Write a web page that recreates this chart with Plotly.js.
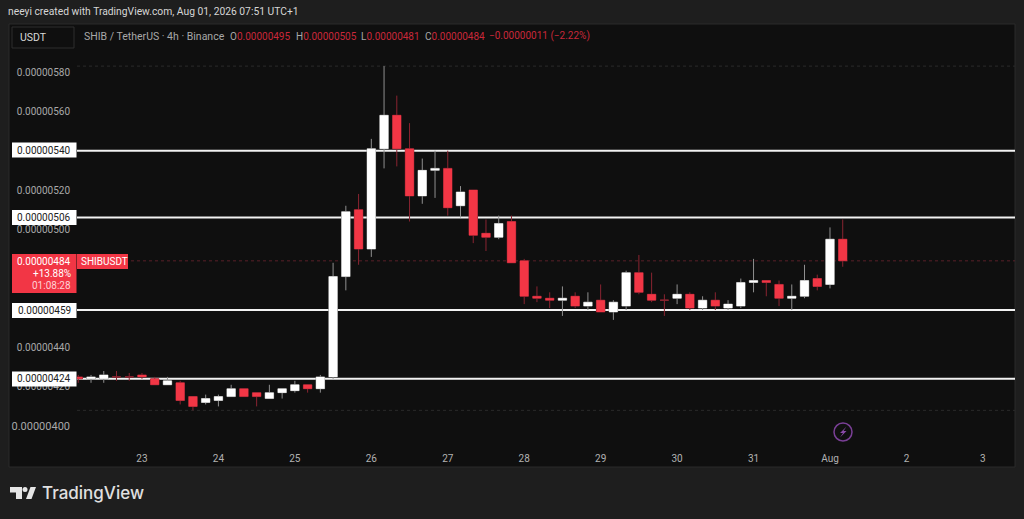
<!DOCTYPE html>
<html><head><meta charset="utf-8">
<script src="https://cdn.plot.ly/plotly-3.0.1.min.js"></script>
<style>html,body{margin:0;padding:0;background:#1e1e1e;overflow:hidden}</style>
</head><body><div id="chart" style="width:1024px;height:519px"></div>
<script>
// prices are in units of 0.00000001 USDT
const times = ["2026-07-22 04:00","2026-07-22 08:00","2026-07-22 12:00","2026-07-22 16:00","2026-07-22 20:00",
"2026-07-23 00:00","2026-07-23 04:00","2026-07-23 08:00","2026-07-23 12:00","2026-07-23 16:00","2026-07-23 20:00",
"2026-07-24 00:00","2026-07-24 04:00","2026-07-24 08:00","2026-07-24 12:00","2026-07-24 16:00","2026-07-24 20:00",
"2026-07-25 00:00","2026-07-25 04:00","2026-07-25 08:00","2026-07-25 12:00","2026-07-25 16:00","2026-07-25 20:00",
"2026-07-26 00:00","2026-07-26 04:00","2026-07-26 08:00","2026-07-26 12:00","2026-07-26 16:00","2026-07-26 20:00",
"2026-07-27 00:00","2026-07-27 04:00","2026-07-27 08:00","2026-07-27 12:00","2026-07-27 16:00","2026-07-27 20:00",
"2026-07-28 00:00","2026-07-28 04:00","2026-07-28 08:00","2026-07-28 12:00","2026-07-28 16:00","2026-07-28 20:00",
"2026-07-29 00:00","2026-07-29 04:00","2026-07-29 08:00","2026-07-29 12:00","2026-07-29 16:00","2026-07-29 20:00",
"2026-07-30 00:00","2026-07-30 04:00","2026-07-30 08:00","2026-07-30 12:00","2026-07-30 16:00","2026-07-30 20:00",
"2026-07-31 00:00","2026-07-31 04:00","2026-07-31 08:00","2026-07-31 12:00","2026-07-31 16:00","2026-07-31 20:00",
"2026-08-01 00:00","2026-08-01 04:00"];
const opens  = [425,424,424,425,425,426,424,421,422,415,412,413,415,419,417,414,417,418,421,419,425,476,510,490,541,558,541,517,530,531,512,520,498,496,504,484,466,465,464,466,461,464,458,461,478,467,464,465,467,460,464,460,461,473,474,472,465,466,475,472,495];
const highs  = [426,426,428,428,427,427,425,425,423,415,416,416,421,419,417,421,419,423,421,426,483,512,518,546,583,568,554,536,540,540,522,520,505,507,507,485,471,468,471,468,468,472,464,479,487,478,467,472,468,466,468,464,475,485,474,474,472,482,477,501,505];
const lows   = [422,422,422,423,423,424,421,421,411,408,411,410,415,415,410,414,414,417,417,417,424,469,482,486,531,532,504,513,516,507,506,493,489,495,483,462,463,460,456,460,459,458,454,459,467,463,456,462,459,459,459,459,460,468,466,461,459,465,469,470,481];
const closes = [424,425,426,425,425,425,421,423,413,410,414,415,419,415,415,417,419,421,419,425,476,509,490,541,558,541,517,530,531,511,519,497,496,503,483,466,465,464,465,461,463,458,463,478,468,464,464,467,460,464,461,462,473,474,473,465,466,474,471,495,484];

const levelValues = [540,506,459,424];
const levelLabels = ["0.00000540","0.00000506","0.00000459","0.00000424"];
const dottedValues = [583,408];
const lastPrice = 484;
const yTickVals = [400,420,440,500,520,560,580];
const yTickText = ['<span style="font-size:11px">0.00000400</span>',"0.00000420","0.00000440","0.00000500","0.00000520","0.00000560","0.00000580"];
const xTickVals = ["2026-07-23","2026-07-24","2026-07-25","2026-07-26","2026-07-27","2026-07-28","2026-07-29","2026-07-30","2026-07-31","2026-08-01","2026-08-02","2026-08-03"];
const xTickText = ["23","24","25","26","27","28","29","30","31","Aug","2","3"];

const RED="#f23645", WHITE="#ffffff", FONT="Roboto, sans-serif";
const L=77,R=1015,T=24,B=467;
const px=x=>(x-L)/(R-L), py=y=>1-(y-T)/(B-T);
const rect=(x0,y0,x1,y1,fill,line,layer)=>({type:"rect",xref:"paper",yref:"paper",x0:px(x0),x1:px(x1),y0:py(y0),y1:py(y1),fillcolor:fill,line:line||{width:0},layer:layer||"above"});
const poly=(pts,fill)=>({type:"path",xref:"paper",yref:"paper",layer:"above",fillcolor:fill,line:{width:0},
  path:"M"+pts.map(p=>px(p[0])+","+py(p[1])).join(" L")+" Z"});
const txt=(x,y,text,color,size,anchor,extra)=>Object.assign({xref:"paper",yref:"paper",x:px(x),y:py(y),text,showarrow:false,
  xanchor:anchor||"left",yanchor:"middle",font:{family:FONT,size:size||10,color:color||"#b2b2b2"}},extra||{});

const common={type:"candlestick",x:times,open:opens,high:highs,low:lows,close:closes,hoverinfo:"skip",showlegend:false,whiskerwidth:0};
const traces=[
 Object.assign({},common,{increasing:{line:{color:"#8f8f8f",width:1},fillcolor:WHITE},decreasing:{line:{color:"#8a2431",width:1},fillcolor:RED}}),
 Object.assign({},common,{increasing:{line:{color:WHITE,width:0},fillcolor:WHITE},decreasing:{line:{color:RED,width:0},fillcolor:RED}})
];

const shapes=[
 rect(9,24,1015,467,"#0f0f0f",{color:"#2b2b2b",width:1},"below"),
 rect(12,27,74,48,"#0f0f0f",{color:"#2e2e2e",width:1}),
 {type:"line",xref:"paper",yref:"y",x0:0,x1:1,y0:lastPrice,y1:lastPrice,line:{color:"#5a2029",width:1,dash:"dot"},layer:"below"}
];
dottedValues.forEach(v=>shapes.push({type:"line",xref:"paper",yref:"y",x0:0,x1:1,y0:v,y1:v,line:{color:"#2a2a2a",width:1,dash:"dot"},layer:"below"}));
levelValues.forEach(v=>shapes.push({type:"line",xref:"paper",yref:"y",x0:0,x1:1,y0:v,y1:v,line:{color:"#f2f2f2",width:2},layer:"below"}));
// TradingView logo
shapes.push(poly([[10,487],[22,487],[22,499],[16,499],[16,492.5],[10,492.5]],"#e6e6e6"));
shapes.push({type:"circle",xref:"paper",yref:"paper",layer:"above",fillcolor:"#e6e6e6",line:{width:0},x0:px(22.5),x1:px(27.5),y0:py(492),y1:py(487)});
shapes.push(poly([[26,499],[30.5,487],[36,487],[31.5,499]],"#e6e6e6"));
// lightning badge
shapes.push({type:"circle",xref:"paper",yref:"paper",layer:"above",fillcolor:"rgba(0,0,0,0)",line:{color:"#7a3f96",width:1.5},x0:px(834),x1:px(852),y0:py(441),y1:py(423)});
shapes.push(poly([[846.5,426.5],[840,433],[843,433],[840,437.5],[846.5,431],[843.5,431]],"#8a4aa8"));

const labelY=[150,217.5,310.5,379];
labelY.forEach(y=>shapes.push(rect(12,y-7.5,76.5,y+7.5,"#ffffff")));
shapes.push(rect(12,254,76.5,293,RED));
shapes.push(rect(77,254,128,269,RED));

const annotations=[
 txt(6,11.5,"neeyi created with TradingView.com, Aug 01, 2026 07:51 UTC+1","#d6d6d6",10.3),
 txt(18,37,"USDT","#d8d8d8",10.5),
 txt(82,36,"SHIB / TetherUS · 4h · Binance","#a8a8a8",10.5),
 txt(228,36,'O<span style="color:#c9283a">0.00000495</span>',"#a8a8a8",10),
 txt(294,36,'H<span style="color:#c9283a">0.00000505</span>',"#a8a8a8",10),
 txt(359,36,'L<span style="color:#c9283a">0.00000481</span>',"#a8a8a8",10),
 txt(423,36,'C<span style="color:#c9283a">0.00000484</span>',"#a8a8a8",10),
 txt(487,36,'−0.00000011 (−2.22%)',"#c9283a",10),
 txt(40,493,"TradingView","#e6e6e6",17,"left",{font:{family:"Inter, Roboto, sans-serif",size:17,color:"#e0e0e0",weight:500}})
];
levelValues.forEach((v,i)=>annotations.push({xref:"paper",yref:"y",x:px(73),y:v,text:levelLabels[i],showarrow:false,xanchor:"right",yanchor:"middle",font:{family:FONT,size:10,color:"#222222"}}));
annotations.push(txt(73,261.5,"0.00000484","#ffffff",10,"right"));
annotations.push(txt(73,273.5,"+13.88%","#ffffff",10,"right"));
annotations.push(txt(73,285.5,"01:08:28","#ffd0d5",10,"right"));
annotations.push(txt(79,261.5,"SHIBUSDT","#ffffff",10,"left"));

Plotly.newPlot("chart",traces,{
 width:1024,height:519,margin:{l:L,r:1024-R,t:T,b:519-B,pad:0},
 paper_bgcolor:"#1e1e1e",plot_bgcolor:"rgba(0,0,0,0)",
 boxmode:"overlay",boxgap:0.05,dragmode:false,showlegend:false,
 font:{family:FONT,size:10,color:"#b2b2b2"},
 xaxis:{type:"date",range:["2026-07-22 03:36","2026-08-03 10:05"],tickmode:"array",tickvals:xTickVals,ticktext:xTickText,
   showgrid:false,zeroline:false,showline:false,ticks:"",ticklabelposition:"inside",rangeslider:{visible:false},
   tickfont:{family:FONT,size:10,color:"#b2b2b2"}},
 yaxis:{range:[379.2,604.4],tickmode:"array",tickvals:yTickVals,ticktext:yTickText,showgrid:false,zeroline:false,showline:false,
   ticks:"",tickfont:{family:FONT,size:10,color:"#a8a8a8"},ticklen:0,ticklabelstandoff:6},
 shapes,annotations
},{displayModeBar:false,staticPlot:true});
</script></body></html>
